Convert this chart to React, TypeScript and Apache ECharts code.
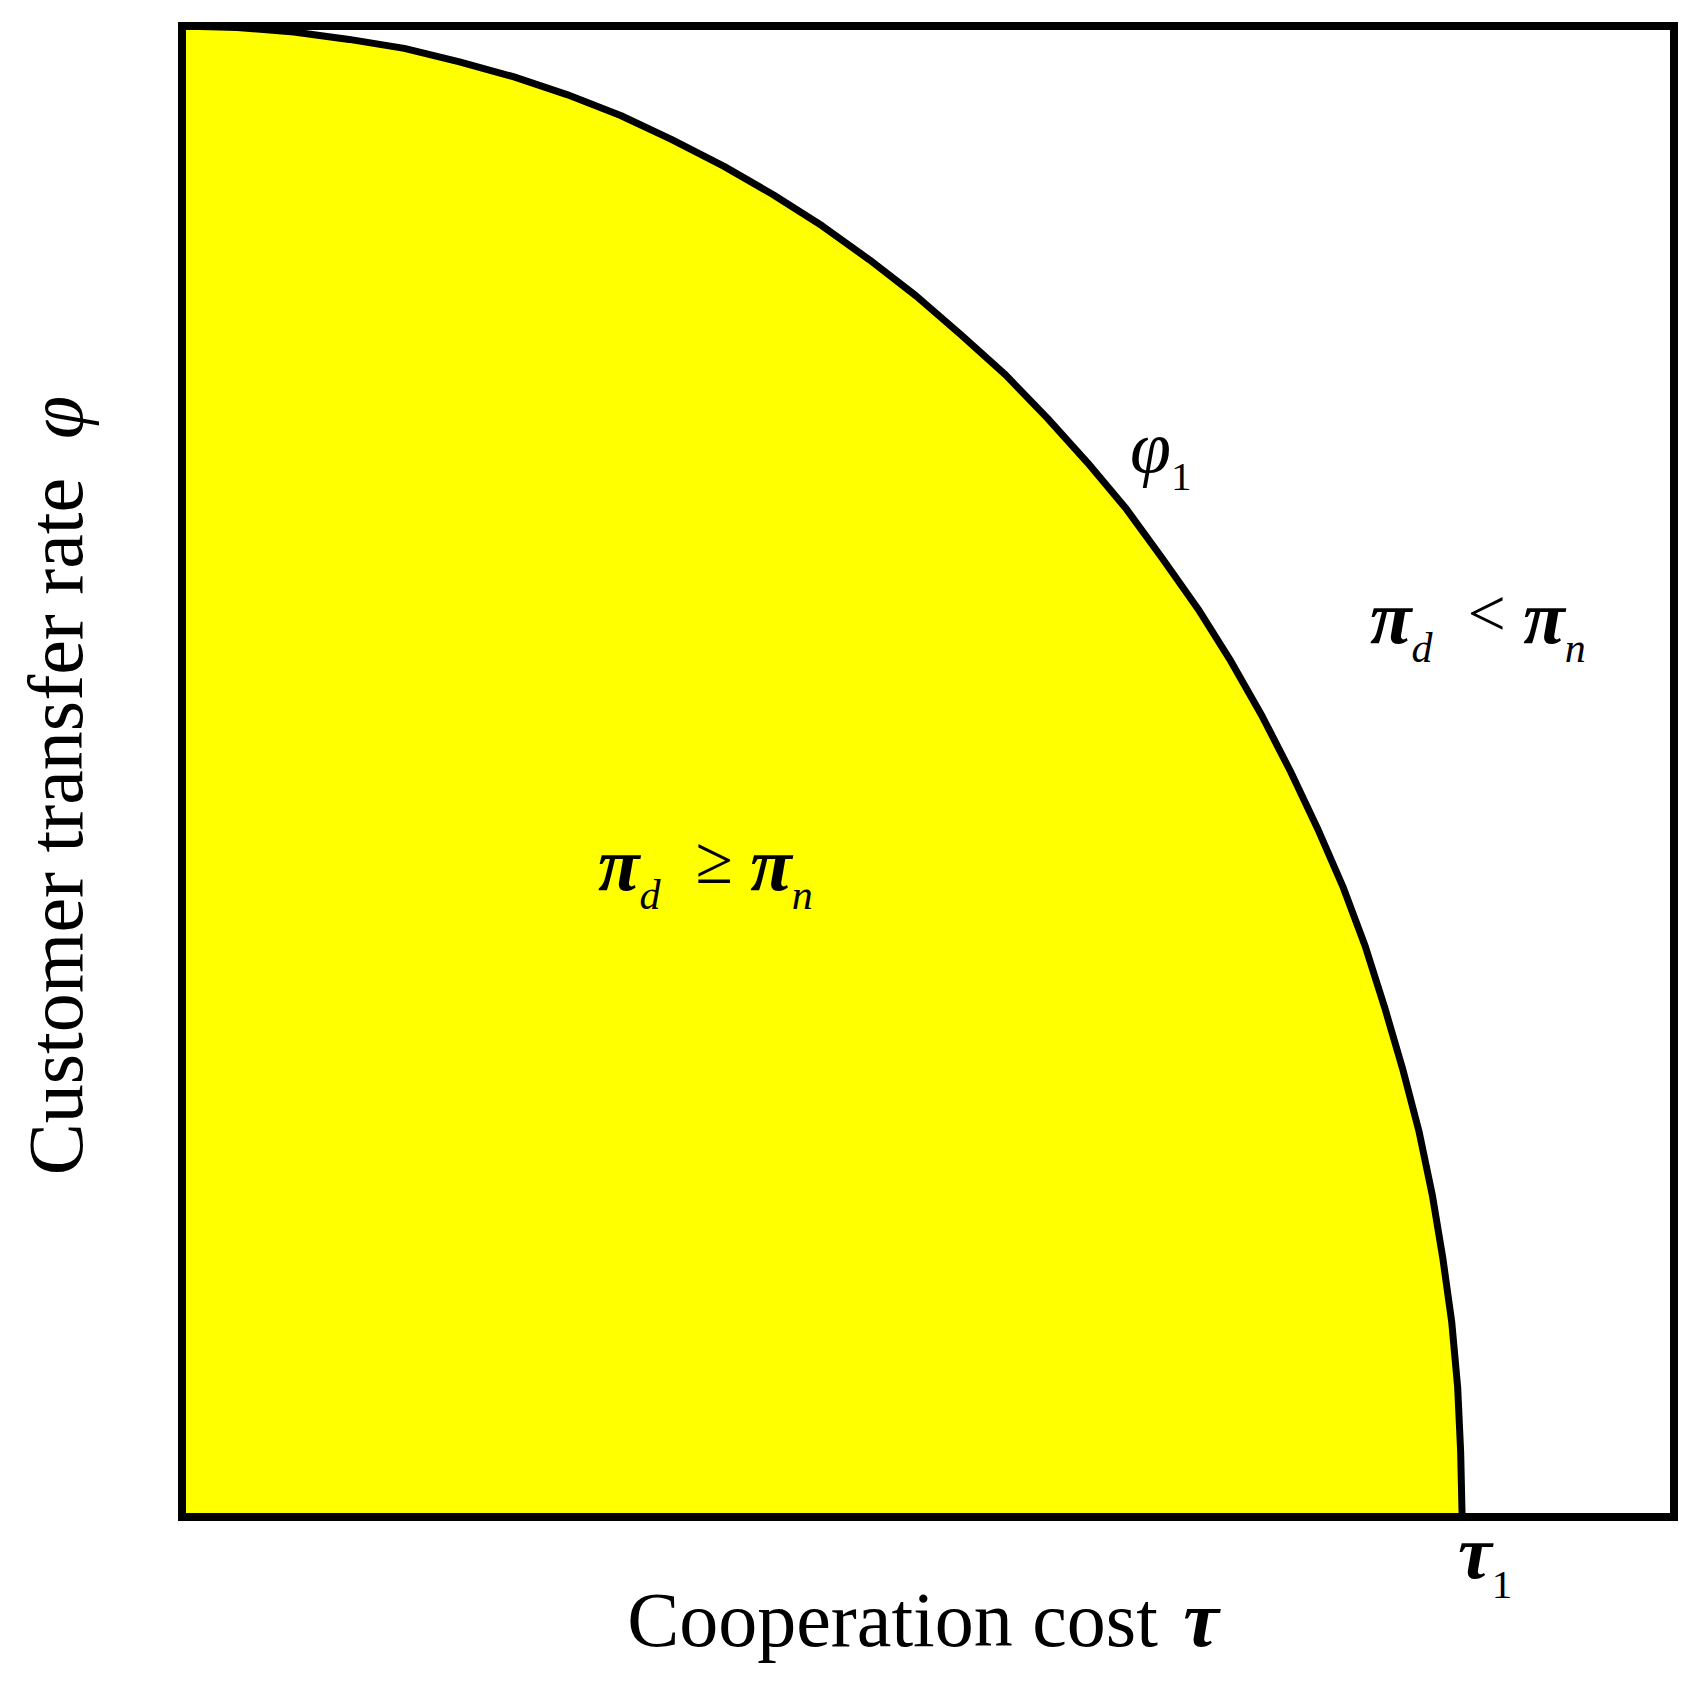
import React, { useEffect, useRef } from "react";
import * as echarts from "echarts";

// Boundary curve phi1(tau) (axes normalised 0..1)
const tauValues = [
  0, 0.037, 0.075, 0.112, 0.149, 0.186, 0.222, 0.258, 0.294, 0.328, 0.363, 0.396, 0.429,
  0.461, 0.492, 0.522, 0.552, 0.58, 0.607, 0.633, 0.657, 0.681, 0.703, 0.724, 0.743, 0.761,
  0.778, 0.793, 0.806, 0.818, 0.829, 0.838, 0.845, 0.851, 0.855, 0.857, 0.858,
];
const phiValues = [
  1, 0.999, 0.996, 0.991, 0.985, 0.976, 0.966, 0.954, 0.94, 0.924, 0.906, 0.887, 0.866,
  0.843, 0.819, 0.793, 0.766, 0.737, 0.707, 0.676, 0.643, 0.609, 0.574, 0.537, 0.5, 0.462,
  0.423, 0.383, 0.342, 0.301, 0.259, 0.216, 0.174, 0.131, 0.087, 0.044, 0,
];

const xTitle = "Cooperation cost";
const yTitle = "Customer transfer rate";
const tauSym = "τ";
const phiSym = "φ";
const piSym = "π";

const serif = "'Liberation Serif', 'Times New Roman', serif";

const rich = {
  g: { fontFamily: serif, fontSize: 76, fontStyle: "italic", fontWeight: "bold", lineHeight: 76, verticalAlign: "top", color: "#000" },
  gi: { fontFamily: serif, fontSize: 74, fontStyle: "italic", lineHeight: 72, verticalAlign: "top", color: "#000" },
  op: { fontFamily: serif, fontSize: 68, lineHeight: 76, verticalAlign: "top", color: "#000" },
  sub: { fontFamily: serif, fontSize: 42, fontStyle: "italic", lineHeight: 42, verticalAlign: "bottom", color: "#000" },
  subn: { fontFamily: serif, fontSize: 41, lineHeight: 42, verticalAlign: "bottom", color: "#000" },
  sp: { fontFamily: serif, fontSize: 70, lineHeight: 90, verticalAlign: "middle", color: "#000" },
  sp2: { fontFamily: serif, fontSize: 70, lineHeight: 86, verticalAlign: "middle", color: "#000" },
};

export default function App() {
  const ref = useRef<HTMLDivElement>(null);
  useEffect(() => {
    if (!ref.current) return;
    const chart = echarts.init(ref.current, null, { renderer: "svg" });
    const data = tauValues.map((t, i) => [t, phiValues[i]]);
    chart.setOption({
      animation: false,
      backgroundColor: "#fff",
      grid: { left: 172, top: 18, right: 18, bottom: 157, show: true, borderColor: "#000", borderWidth: 8, z: 10 },
      xAxis: {
        type: "value", min: 0, max: 1,
        axisLine: { show: false }, axisTick: { show: false }, axisLabel: { show: false }, splitLine: { show: false },
        name: `${xTitle} {t|${tauSym}}`,
        nameLocation: "middle", nameGap: 62,
        nameTextStyle: {
          fontFamily: serif, fontSize: 78, color: "#000", padding: [0, 10, 0, 0],
          rich: { t: { fontFamily: serif, fontSize: 80, fontStyle: "italic", fontWeight: "bold", color: "#000", padding: [0, 0, 0, 6] } },
        },
      },
      yAxis: {
        type: "value", min: 0, max: 1,
        axisLine: { show: false }, axisTick: { show: false }, axisLabel: { show: false }, splitLine: { show: false },
        name: `${yTitle}  {p|${phiSym}}`,
        nameLocation: "middle", nameGap: 88, nameRotate: 90,
        nameTextStyle: {
          fontFamily: serif, fontSize: 78, color: "#000", padding: [0, 28, 0, 0],
          rich: { p: { fontFamily: serif, fontSize: 78, fontStyle: "italic", color: "#000" } },
        },
      },
      series: [
        {
          type: "line",
          data,
          smooth: false,
          showSymbol: false,
          lineStyle: { color: "#000", width: 7, join: "round" },
          areaStyle: { color: "#ffff00", opacity: 1 },
          z: 2,
        },
      ],
      graphic: [
        { type: "text", x: 590, y: 818, z: 20, style: { text: `{g|${piSym}}{sub|d}{sp|  }{op|≥}{sp| }{g|${piSym}}{sub|n}`, rich, verticalAlign: "top", align: "left" } },
        { type: "text", x: 1362, y: 571, z: 20, style: { text: `{g|${piSym}}{sub|d}{sp|  }{op|<}{sp| }{g|${piSym}}{sub|n}`, rich, verticalAlign: "top", align: "left" } },
        { type: "text", x: 1122, y: 402, z: 20, style: { text: `{gi|${phiSym}}{subn|1}{sp2|}`, rich, verticalAlign: "top", align: "left" } },
        { type: "text", x: 1450, y: 1506, z: 20, style: { text: `{g|${tauSym}}{subn|1}{sp|}`, rich, verticalAlign: "top", align: "left" } },
      ],
    });
    return () => chart.dispose();
  }, []);
  return <div ref={ref} style={{ width: 1684, height: 1666 }} />;
}
